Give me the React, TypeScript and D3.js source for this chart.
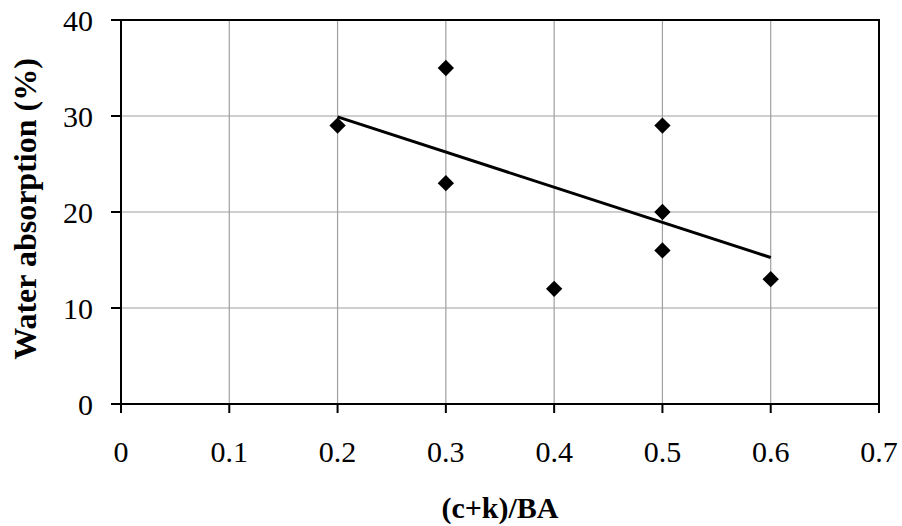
import React from "react";
import * as d3 from "d3";

const xValues = [0.2, 0.3, 0.3, 0.4, 0.5, 0.5, 0.5, 0.6];
const yValues = [29, 35, 23, 12, 29, 20, 16, 13];
const xTicks = [0, 0.1, 0.2, 0.3, 0.4, 0.5, 0.6, 0.7];
const yTicks = [0, 10, 20, 30, 40];
const xTitle = "(c+k)/BA";
const yTitle = "Water absorption (%)";

const W = 902;
const H = 526;
const M = { left: 121, right: 879, top: 20, bottom: 404 };
const FONT = "'Liberation Serif', 'Times New Roman', serif";

export default function App() {
  const x = d3.scaleLinear().domain([0, 0.7]).range([M.left, M.right]);
  const y = d3.scaleLinear().domain([0, 40]).range([M.bottom, M.top]);

  const mx = d3.mean(xValues)!;
  const my = d3.mean(yValues)!;
  let sxy = 0, sxx = 0;
  xValues.forEach((v, i) => {
    sxy += (v - mx) * (yValues[i] - my);
    sxx += (v - mx) * (v - mx);
  });
  const slope = sxy / sxx;
  const icpt = my - slope * mx;
  const x0 = d3.min(xValues)!;
  const x1 = d3.max(xValues)!;
  const line = d3.line<number>().x((d) => x(d)).y((d) => y(icpt + slope * d));

  const diamond = d3.symbol().type(d3.symbolDiamond2).size(170)();

  const fmt = (v: number) => (v === 0 ? "0" : String(v));

  return (
    <svg width={W} height={H} style={{ position: "absolute", left: 0, top: 0, background: "#fff" }}>
      <rect x={0} y={0} width={W} height={H} fill="#fff" />
      {xTicks.slice(1, -1).map((t) => (
        <line key={"gx" + t} x1={x(t)} x2={x(t)} y1={M.top} y2={M.bottom} stroke="#a0a0a0" strokeWidth={1.2} />
      ))}
      {yTicks.slice(1, -1).map((t) => (
        <line key={"gy" + t} x1={M.left} x2={M.right} y1={y(t)} y2={y(t)} stroke="#a0a0a0" strokeWidth={1.2} />
      ))}
      <rect x={M.left} y={M.top} width={M.right - M.left} height={M.bottom - M.top} fill="none" stroke="#000" strokeWidth={2} />
      {yTicks.map((t) => (
        <g key={"ty" + t}>
          <line x1={M.left - 10} x2={M.left} y1={y(t)} y2={y(t)} stroke="#000" strokeWidth={2} />
          <text x={93} y={y(t)} dy="0.35em" textAnchor="end" fontFamily={FONT} fontSize={30} fill="#000">
            {fmt(t)}
          </text>
        </g>
      ))}
      {xTicks.map((t) => (
        <g key={"tx" + t}>
          <line x1={x(t)} x2={x(t)} y1={M.bottom} y2={M.bottom + 9} stroke="#000" strokeWidth={2} />
          <text x={x(t)} y={462} textAnchor="middle" fontFamily={FONT} fontSize={30} fill="#000">
            {fmt(t)}
          </text>
        </g>
      ))}
      <path d={line([x0, x1]) || ""} fill="none" stroke="#000" strokeWidth={3} />
      {xValues.map((v, i) => (
        <path key={"p" + i} d={diamond || ""} transform={`translate(${x(v)},${y(yValues[i])})`} fill="#000" />
      ))}
      <text x={500} y={518} textAnchor="middle" fontFamily={FONT} fontSize={30} fontWeight="bold" fill="#000">
        {xTitle}
      </text>
      <text
        transform={`translate(36,209) rotate(-90)`}
        textAnchor="middle"
        fontFamily={FONT}
        fontSize={32}
        fontWeight="bold"
        fill="#000"
      >
        {yTitle}
      </text>
    </svg>
  );
}
